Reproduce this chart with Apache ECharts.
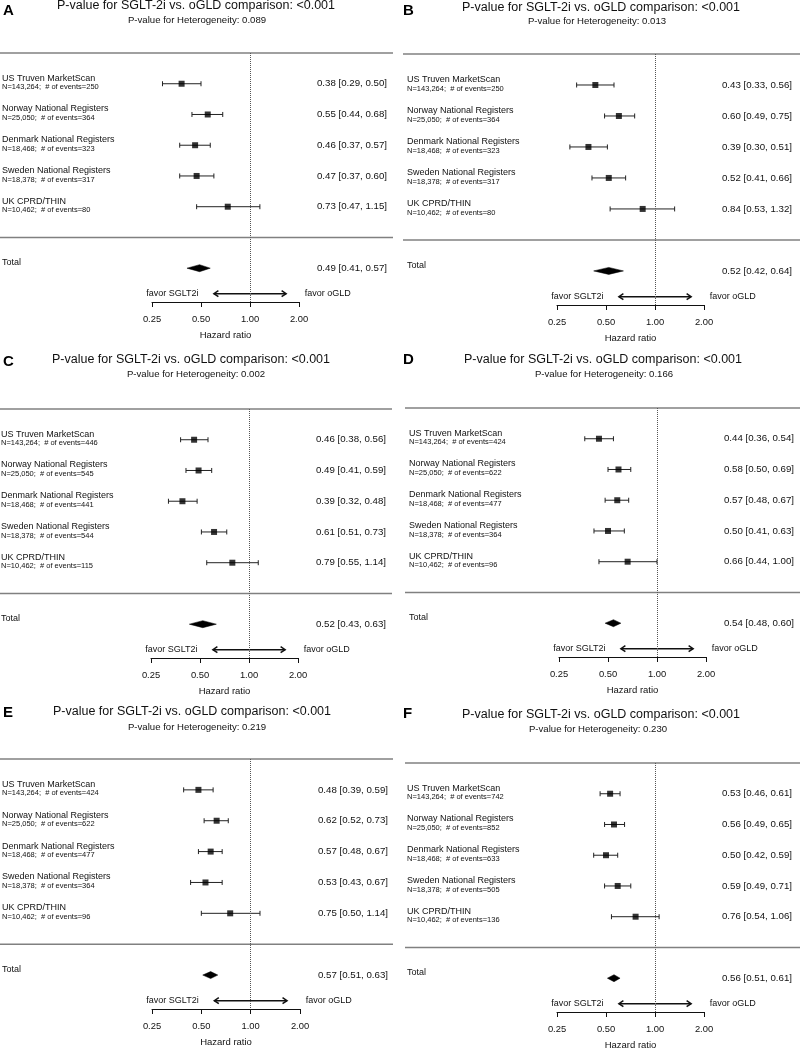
<!DOCTYPE html>
<html><head><meta charset="utf-8">
<script src="https://cdn.jsdelivr.net/npm/echarts@6/dist/echarts.min.js"></script>
<style>html,body{margin:0;padding:0;background:#fff}#c{width:800px;height:1049px}</style>
</head><body><div id="c"></div>
<script>
// ---------------- data ----------------
const panelLetters = ['A', 'B', 'C', 'D', 'E', 'F'];
const comparisonP = ['<0.001', '<0.001', '<0.001', '<0.001', '<0.001', '<0.001'];
const heterogeneityP = ['0.089', '0.013', '0.002', '0.166', '0.219', '0.230'];
const studies = ['US Truven MarketScan', 'Norway National Registers', 'Denmark National Registers', 'Sweden National Registers', 'UK CPRD/THIN'];
const studyN = ['143,264', '25,050', '18,468', '18,378', '10,462'];
const totalLabel = 'Total';

const eventsA = [250, 364, 323, 317, 80];
const hrA = [0.38, 0.55, 0.46, 0.47, 0.73];
const loA = [0.29, 0.44, 0.37, 0.37, 0.47];
const hiA = [0.50, 0.68, 0.57, 0.60, 1.15];
const totalA = [0.49, 0.41, 0.57];

const eventsB = [250, 364, 323, 317, 80];
const hrB = [0.43, 0.60, 0.39, 0.52, 0.84];
const loB = [0.33, 0.49, 0.30, 0.41, 0.53];
const hiB = [0.56, 0.75, 0.51, 0.66, 1.32];
const totalB = [0.52, 0.42, 0.64];

const eventsC = [446, 545, 441, 544, 115];
const hrC = [0.46, 0.49, 0.39, 0.61, 0.79];
const loC = [0.38, 0.41, 0.32, 0.51, 0.55];
const hiC = [0.56, 0.59, 0.48, 0.73, 1.14];
const totalC = [0.52, 0.43, 0.63];

const eventsD = [424, 622, 477, 364, 96];
const hrD = [0.44, 0.58, 0.57, 0.50, 0.66];
const loD = [0.36, 0.50, 0.48, 0.41, 0.44];
const hiD = [0.54, 0.69, 0.67, 0.63, 1.00];
const totalD = [0.54, 0.48, 0.60];

const eventsE = [424, 622, 477, 364, 96];
const hrE = [0.48, 0.62, 0.57, 0.53, 0.75];
const loE = [0.39, 0.52, 0.48, 0.43, 0.50];
const hiE = [0.59, 0.73, 0.67, 0.67, 1.14];
const totalE = [0.57, 0.51, 0.63];

const eventsF = [742, 852, 633, 505, 136];
const hrF = [0.53, 0.56, 0.50, 0.59, 0.76];
const loF = [0.46, 0.49, 0.42, 0.49, 0.54];
const hiF = [0.61, 0.65, 0.59, 0.71, 1.06];
const totalF = [0.56, 0.51, 0.61];

const tickValues = [0.25, 0.5, 1, 2];
const tickLabels = ['0.25', '0.50', '1.00', '2.00'];
const axisTitle = 'Hazard ratio';
const favorLabels = ['favor SGLT2i', 'favor oGLD'];

const panelData = [
  { events: eventsA, hr: hrA, lo: loA, hi: hiA, total: totalA },
  { events: eventsB, hr: hrB, lo: loB, hi: hiB, total: totalB },
  { events: eventsC, hr: hrC, lo: loC, hi: hiC, total: totalC },
  { events: eventsD, hr: hrD, lo: loD, hi: hiD, total: totalD },
  { events: eventsE, hr: hrE, lo: loE, hi: hiE, total: totalE },
  { events: eventsF, hr: hrF, lo: loF, hi: hiF, total: totalF }
];

// ---------------- layout ----------------
const layout = [
  { gl: 152, gr: 299, top: 53, bottom: 302, px0: 0, px1: 393, tx: 196, ty: 5.5, sx: 197, sy: 20, lx: 3, ly: 11 },
  { gl: 557, gr: 704, top: 54, bottom: 305, px0: 403, px1: 800, tx: 601, ty: 7.5, sx: 597, sy: 21, lx: 403, ly: 10.5 },
  { gl: 151, gr: 298, top: 409, bottom: 658, px0: 0, px1: 392, tx: 191, ty: 360, sx: 196, sy: 374, lx: 3, ly: 362 },
  { gl: 559, gr: 706, top: 408, bottom: 657, px0: 405, px1: 800, tx: 603, ty: 359.5, sx: 604, sy: 374, lx: 403, ly: 359.5 },
  { gl: 152, gr: 300, top: 759, bottom: 1009, px0: 0, px1: 393, tx: 192, ty: 712, sx: 197, sy: 727, lx: 3, ly: 713 },
  { gl: 557, gr: 704, top: 763, bottom: 1012, px0: 405, px1: 800, tx: 601, ty: 715, sx: 598, sy: 729, lx: 403, ly: 714 }
];
const ROW_MIN = -1, ROW_MAX = 7.1, TOTAL_ROW = 6, RULE_ROW = 5, FAVOR_ROW = 6.83;
const ARROW_RANGE = [0.6, 1.667];
const FAVOR_X = [1 / 3, 3];
const FONT = '"Liberation Sans", Arial, Helvetica, sans-serif';
const TXT = '#111';

function fmt(v) { return v.toFixed(2); }
function tickFmt(v) {
  for (let k = 0; k < tickValues.length; k++) if (Math.abs(v - tickValues[k]) < 1e-6) return tickLabels[k];
  return '';
}

const grid = [], xAxis = [], yAxis = [], series = [], graphic = [];

layout.forEach((L, i) => {
  const D = panelData[i];
  grid.push({ left: L.gl, top: L.top, width: L.gr - L.gl, height: L.bottom - L.top, containLabel: false, outerBoundsMode: 'none' });
  xAxis.push({
    type: 'log', logBase: 2, min: 0.25, max: 2, gridIndex: i,
    axisLine: { show: true, onZero: false, lineStyle: { color: '#111', width: 1 } },
    axisTick: { show: true, length: 5, lineStyle: { color: '#111', width: 1 } },
    minorTick: { show: false }, splitLine: { show: false },
    axisLabel: { margin: 13, fontSize: 9.4, color: TXT, fontFamily: FONT, formatter: tickFmt },
    name: axisTitle, nameLocation: 'middle', nameGap: 28,
    nameTextStyle: { fontSize: 9.5, color: TXT, fontFamily: FONT }
  });
  const yBase = { type: 'value', gridIndex: i, min: ROW_MIN, max: ROW_MAX, interval: 1, inverse: true,
    axisLine: { show: false, onZero: false }, axisTick: { show: false }, splitLine: { show: false } };
  yAxis.push(Object.assign({}, yBase, {
    position: 'left',
    axisLabel: {
      align: 'left', margin: 150, padding: [0, 0, 3, 0],
      formatter: function (v) {
        const k = Math.round(v);
        if (Math.abs(v - k) > 1e-6) return '';
        if (k >= 0 && k < studies.length)
          return '{a|' + studies[k] + '}\n{b|N=' + studyN[k] + ';  # of events=' + D.events[k] + '}';
        if (k === TOTAL_ROW) return '{a|' + totalLabel + '}\n{b| }';
        return '';
      },
      rich: {
        a: { fontSize: 9, lineHeight: 10, color: TXT, fontFamily: FONT },
        b: { fontSize: 7.5, lineHeight: 8, color: TXT, fontFamily: FONT }
      }
    }
  }));
  yAxis.push(Object.assign({}, yBase, {
    position: 'right',
    axisLabel: {
      align: 'right', margin: 88, fontSize: 9.7, color: TXT, fontFamily: FONT,
      formatter: function (v) {
        const k = Math.round(v);
        if (Math.abs(v - k) > 1e-6) return '';
        if (k >= 0 && k < studies.length) return fmt(D.hr[k]) + ' [' + fmt(D.lo[k]) + ', ' + fmt(D.hi[k]) + ']';
        if (k === TOTAL_ROW) return fmt(D.total[0]) + ' [' + fmt(D.total[1]) + ', ' + fmt(D.total[2]) + ']';
        return '';
      }
    }
  }));

  // confidence intervals
  series.push({
    type: 'custom', xAxisIndex: i, yAxisIndex: 2 * i, z: 3, silent: true,
    data: D.lo.map((v, k) => [k, v, D.hi[k]]),
    encode: { x: [1, 2], y: 0 },
    renderItem: function (params, api) {
      const r = api.value(0);
      const p0 = api.coord([api.value(1), r]);
      const p1 = api.coord([api.value(2), r]);
      const c = 2.5, st = { stroke: '#222', lineWidth: 1 };
      return { type: 'group', children: [
        { type: 'line', shape: { x1: p0[0], y1: p0[1], x2: p1[0], y2: p1[1] }, style: st },
        { type: 'line', shape: { x1: p0[0], y1: p0[1] - c, x2: p0[0], y2: p0[1] + c }, style: st },
        { type: 'line', shape: { x1: p1[0], y1: p1[1] - c, x2: p1[0], y2: p1[1] + c }, style: st }
      ] };
    }
  });
  // point estimates
  series.push({
    type: 'scatter', xAxisIndex: i, yAxisIndex: 2 * i, z: 5, silent: true,
    data: D.hr.map((v, k) => [v, k]),
    symbol: 'rect', symbolSize: 6, itemStyle: { color: '#000' },
    markLine: { silent: true, symbol: ['none', 'none'], label: { show: false },
      lineStyle: { type: 'dotted', color: '#555', width: 1 }, data: [{ xAxis: 1 }] }
  });
  // pooled diamond
  series.push({
    type: 'custom', xAxisIndex: i, yAxisIndex: 2 * i, z: 5, silent: true,
    data: [[TOTAL_ROW, D.total[0], D.total[1], D.total[2]]],
    encode: { x: [1, 2, 3], y: 0 },
    renderItem: function (params, api) {
      const r = api.value(0);
      const pe = api.coord([api.value(1), r]);
      const pl = api.coord([api.value(2), r]);
      const ph = api.coord([api.value(3), r]);
      const h = 3.5;
      return { type: 'polygon', shape: { points: [[pl[0], pl[1]], [pe[0], pe[1] - h], [ph[0], ph[1]], [pe[0], pe[1] + h]] },
        style: { fill: '#000', stroke: '#000', lineWidth: 0.5 } };
    }
  });
  // rules, arrow, favor labels
  series.push({
    type: 'custom', xAxisIndex: i, yAxisIndex: 2 * i, z: 2, silent: true,
    data: [[RULE_ROW]], encode: { y: 0 },
    renderItem: function (params, api) {
      const yTop = api.coord([1, ROW_MIN])[1];
      const yMid = api.coord([1, RULE_ROW])[1];
      const ya = api.coord([1, FAVOR_ROW])[1];
      const a0 = api.coord([ARROW_RANGE[0], FAVOR_ROW])[0];
      const a1 = api.coord([ARROW_RANGE[1], FAVOR_ROW])[0];
      const t0 = api.coord([FAVOR_X[0], FAVOR_ROW])[0];
      const t1 = api.coord([FAVOR_X[1], FAVOR_ROW])[0];
      const rule = { stroke: '#808080', lineWidth: 1.5 };
      const ar = { stroke: '#111', lineWidth: 1.5, fill: null };
      const ah = 4.5, aw = 3;
      const tf = '9px ' + FONT;
      return { type: 'group', children: [
        { type: 'line', shape: { x1: L.px0, y1: yTop, x2: L.px1, y2: yTop }, style: rule },
        { type: 'line', shape: { x1: L.px0, y1: yMid, x2: L.px1, y2: yMid }, style: rule },
        { type: 'line', shape: { x1: a0, y1: ya, x2: a1, y2: ya }, style: ar },
        { type: 'polyline', shape: { points: [[a0 + ah, ya - aw], [a0, ya], [a0 + ah, ya + aw]] }, style: ar },
        { type: 'polyline', shape: { points: [[a1 - ah, ya - aw], [a1, ya], [a1 - ah, ya + aw]] }, style: ar },
        { type: 'text', style: { text: favorLabels[0], x: t0, y: ya, align: 'center', verticalAlign: 'middle', textAlign: 'center', textVerticalAlign: 'middle', font: tf, fill: TXT } },
        { type: 'text', style: { text: favorLabels[1], x: t1, y: ya, align: 'center', verticalAlign: 'middle', textAlign: 'center', textVerticalAlign: 'middle', font: tf, fill: TXT } }
      ] };
    }
  });

  // titles
  graphic.push({ type: 'text', silent: true, style: { text: 'P-value for SGLT-2i vs. oGLD comparison: ' + comparisonP[i], x: L.tx, y: L.ty,
    align: 'center', verticalAlign: 'middle', textAlign: 'center', textVerticalAlign: 'middle', font: '12.5px ' + FONT, fill: TXT } });
  graphic.push({ type: 'text', silent: true, style: { text: 'P-value for Heterogeneity: ' + heterogeneityP[i], x: L.sx, y: L.sy,
    align: 'center', verticalAlign: 'middle', textAlign: 'center', textVerticalAlign: 'middle', font: '9.6px ' + FONT, fill: TXT } });
  graphic.push({ type: 'text', silent: true, style: { text: panelLetters[i], x: L.lx, y: L.ly,
    align: 'left', verticalAlign: 'middle', textAlign: 'left', textVerticalAlign: 'middle', font: 'bold 15px ' + FONT, fill: '#000' } });
});

const chart = echarts.init(document.getElementById('c'), null, { renderer: 'canvas' });
chart.setOption({
  animation: false,
  backgroundColor: '#fff',
  textStyle: { fontFamily: FONT },
  grid: grid, xAxis: xAxis, yAxis: yAxis, series: series, graphic: graphic
});
</script>
</body></html>
